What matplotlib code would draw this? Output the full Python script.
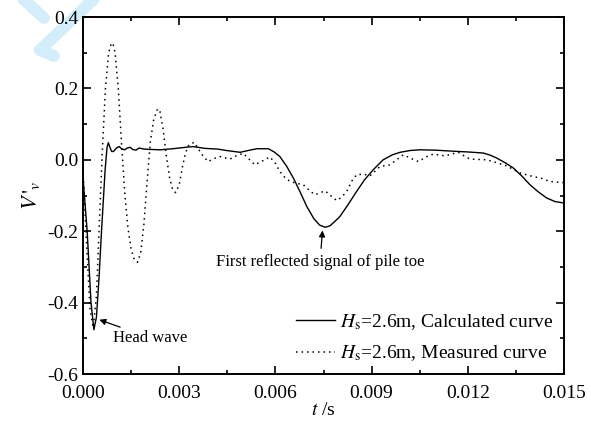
import matplotlib
matplotlib.use('Agg')
import matplotlib.pyplot as plt
from matplotlib.lines import Line2D
from matplotlib.ticker import MultipleLocator, FormatStrFormatter

# --- calculated curve (solid)
t_calc = [0, 0.00013, 0.00025, 0.00034, 0.00042, 0.0005, 0.00058, 0.00069, 0.00075,
          0.00079, 0.00084, 0.00089, 0.00095, 0.00104, 0.00113, 0.0012, 0.0013, 0.00138,
          0.00147, 0.00155, 0.00165, 0.00175, 0.0019, 0.0021, 0.0024, 0.0028, 0.0032,
          0.00344, 0.0038, 0.0042, 0.00448, 0.0049, 0.00515, 0.00542, 0.00578, 0.00596,
          0.00614, 0.00635, 0.00656, 0.00677, 0.00698, 0.0072, 0.00738, 0.00755, 0.0077,
          0.00785, 0.00801, 0.00827, 0.00853, 0.00878, 0.00905, 0.00936, 0.00965, 0.00989,
          0.0102, 0.01051, 0.011, 0.01155, 0.012, 0.01248, 0.0127, 0.0129, 0.01316,
          0.01342, 0.01368, 0.01394, 0.0142, 0.01446, 0.01472, 0.015]
v_calc = [-0.05, -0.20, -0.40, -0.476, -0.44, -0.33, -0.196, -0.028, 0.035,
          0.048, 0.035, 0.024, 0.023, 0.033, 0.037, 0.031, 0.028, 0.033,
          0.035, 0.029, 0.027, 0.033, 0.030, 0.029, 0.028, 0.031, 0.035,
          0.037, 0.032, 0.030, 0.026, 0.021, 0.026, 0.031, 0.031, 0.022,
          0.009, -0.018, -0.051, -0.090, -0.131, -0.165, -0.183, -0.189, -0.185,
          -0.173, -0.159, -0.125, -0.089, -0.056, -0.028, 0.0, 0.014, 0.021,
          0.026, 0.028, 0.027, 0.024, 0.022, 0.019, 0.013, 0.005, -0.008,
          -0.023, -0.045, -0.070, -0.090, -0.107, -0.117, -0.121]

# --- measured curve (dotted)
t_meas = [0, 0.00012, 0.00022, 0.00032, 0.00042, 0.0005, 0.0006, 0.0007, 0.0008,
          0.00088, 0.00093, 0.001, 0.0011, 0.0012, 0.0013, 0.0014, 0.0015, 0.0016,
          0.0017, 0.0018, 0.0019, 0.002, 0.0021, 0.0022, 0.0023, 0.00235, 0.0024,
          0.0025, 0.0026, 0.0027, 0.0028, 0.00289, 0.003, 0.0031, 0.0032, 0.0033,
          0.00347, 0.0036, 0.00375, 0.0039, 0.0041, 0.00427, 0.00458, 0.0048, 0.005,
          0.0052, 0.00536, 0.0056, 0.00583, 0.006, 0.00614, 0.0063, 0.00646, 0.00667,
          0.00687, 0.00705, 0.00723, 0.0074, 0.00755, 0.00772, 0.00791, 0.00805, 0.00822,
          0.00838, 0.00853, 0.00875, 0.00895, 0.00926, 0.00957, 0.00978, 0.00999, 0.0102,
          0.01046, 0.0107, 0.01092, 0.01129, 0.0117, 0.0119, 0.01207, 0.01259, 0.0129,
          0.01321, 0.01363, 0.01404, 0.0143, 0.01456, 0.01498]
v_meas = [-0.03, -0.25, -0.42, -0.47, -0.38, -0.20, 0.02, 0.20, 0.30,
          0.325, 0.327, 0.30, 0.20, 0.05, -0.09, -0.19, -0.25, -0.28,
          -0.287, -0.26, -0.18, -0.06, 0.05, 0.11, 0.138, 0.143, 0.135,
          0.085, 0.01, -0.05, -0.085, -0.092, -0.07, -0.02, 0.02, 0.042,
          0.049, 0.03, 0.01, -0.005, 0.004, 0.009, 0.002, 0.012, 0.018,
          0.0, -0.014, -0.003, 0.008, -0.01, -0.033, -0.05, -0.061, -0.066,
          -0.07, -0.085, -0.098, -0.092, -0.087, -0.10, -0.114, -0.106, -0.089,
          -0.06, -0.042, -0.04, -0.045, -0.019, -0.014, 0.0, 0.014, 0.005,
          -0.005, 0.008, 0.016, 0.011, 0.021, 0.01, 0.002, 0.0, -0.008,
          -0.017, -0.037, -0.047, -0.052, -0.061, -0.064]

labels = [r'$H_{\rm s}$=2.6m, Calculated curve', r'$H_{\rm s}$=2.6m, Measured curve']

plt.rcParams['font.family'] = 'Liberation Serif'
plt.rcParams['mathtext.fontset'] = 'stix'

W, H = 591, 425
fig = plt.figure(figsize=(W / 100, H / 100), dpi=100)
ax = fig.add_axes([83 / W, 1 - 374 / H, 481 / W, 357 / H])

# --- pale watermark strokes in the top-left corner (decoration)
wm = '#d3edfb'
for xs, ys in [([22, 44], [-2, 18]), ([95, 40], [-2, 50]), ([40, 54], [50, 56])]:
    fig.add_artist(Line2D([x / W for x in xs], [1 - y / H for y in ys],
                          transform=fig.transFigure, color=wm, lw=8.5,
                          solid_capstyle='round', zorder=0))

ax.plot(t_calc, v_calc, color='black', lw=1.0, ls='-', label=labels[0])
ax.plot(t_meas, v_meas, color='black', lw=1.1, ls=(0, (1, 2.6)), label=labels[1])

ax.set_xlim(0, 0.015)
ax.set_ylim(-0.6, 0.4)
ax.xaxis.set_major_locator(MultipleLocator(0.003))
ax.xaxis.set_minor_locator(MultipleLocator(0.0015))
ax.yaxis.set_major_locator(MultipleLocator(0.2))
ax.yaxis.set_minor_locator(MultipleLocator(0.1))
ax.xaxis.set_major_formatter(FormatStrFormatter('%.3f'))
ax.yaxis.set_major_formatter(FormatStrFormatter('%.1f'))
ax.tick_params(which='both', direction='in', top=True, right=True, labelsize=14, width=1.2)
ax.tick_params(which='major', length=6)
ax.tick_params(which='minor', length=3)
ax.tick_params(axis='x', pad=8)
for s in ax.spines.values():
    s.set_linewidth(1.4)

ax.set_xlabel(r'$t$ /s', fontsize=14, labelpad=0)
ax.set_ylabel(r"$V\,'_{v}$", fontsize=16, labelpad=4)

# --- annotations
ax.annotate('Head wave', xy=(0.00051, -0.448), xytext=(0.00094, -0.499),
            fontsize=12, ha='left', va='center',
            arrowprops=dict(arrowstyle='-|>', color='black', lw=0.9,
                            mutation_scale=9, shrinkA=0, shrinkB=0))
ax.annotate('First reflected signal of pile toe', xy=(0.00747, -0.198),
            xytext=(0.00739, -0.286), fontsize=12, ha='center', va='center',
            arrowprops=dict(arrowstyle='-|>', color='black', lw=0.9,
                            mutation_scale=9, shrinkA=2, shrinkB=0))

ax.legend(loc='lower right', frameon=False, fontsize=14, handlelength=2.0,
          handletextpad=0.25, labelspacing=0.6, borderaxespad=0.15)

fig.savefig('out.png', dpi=100)
